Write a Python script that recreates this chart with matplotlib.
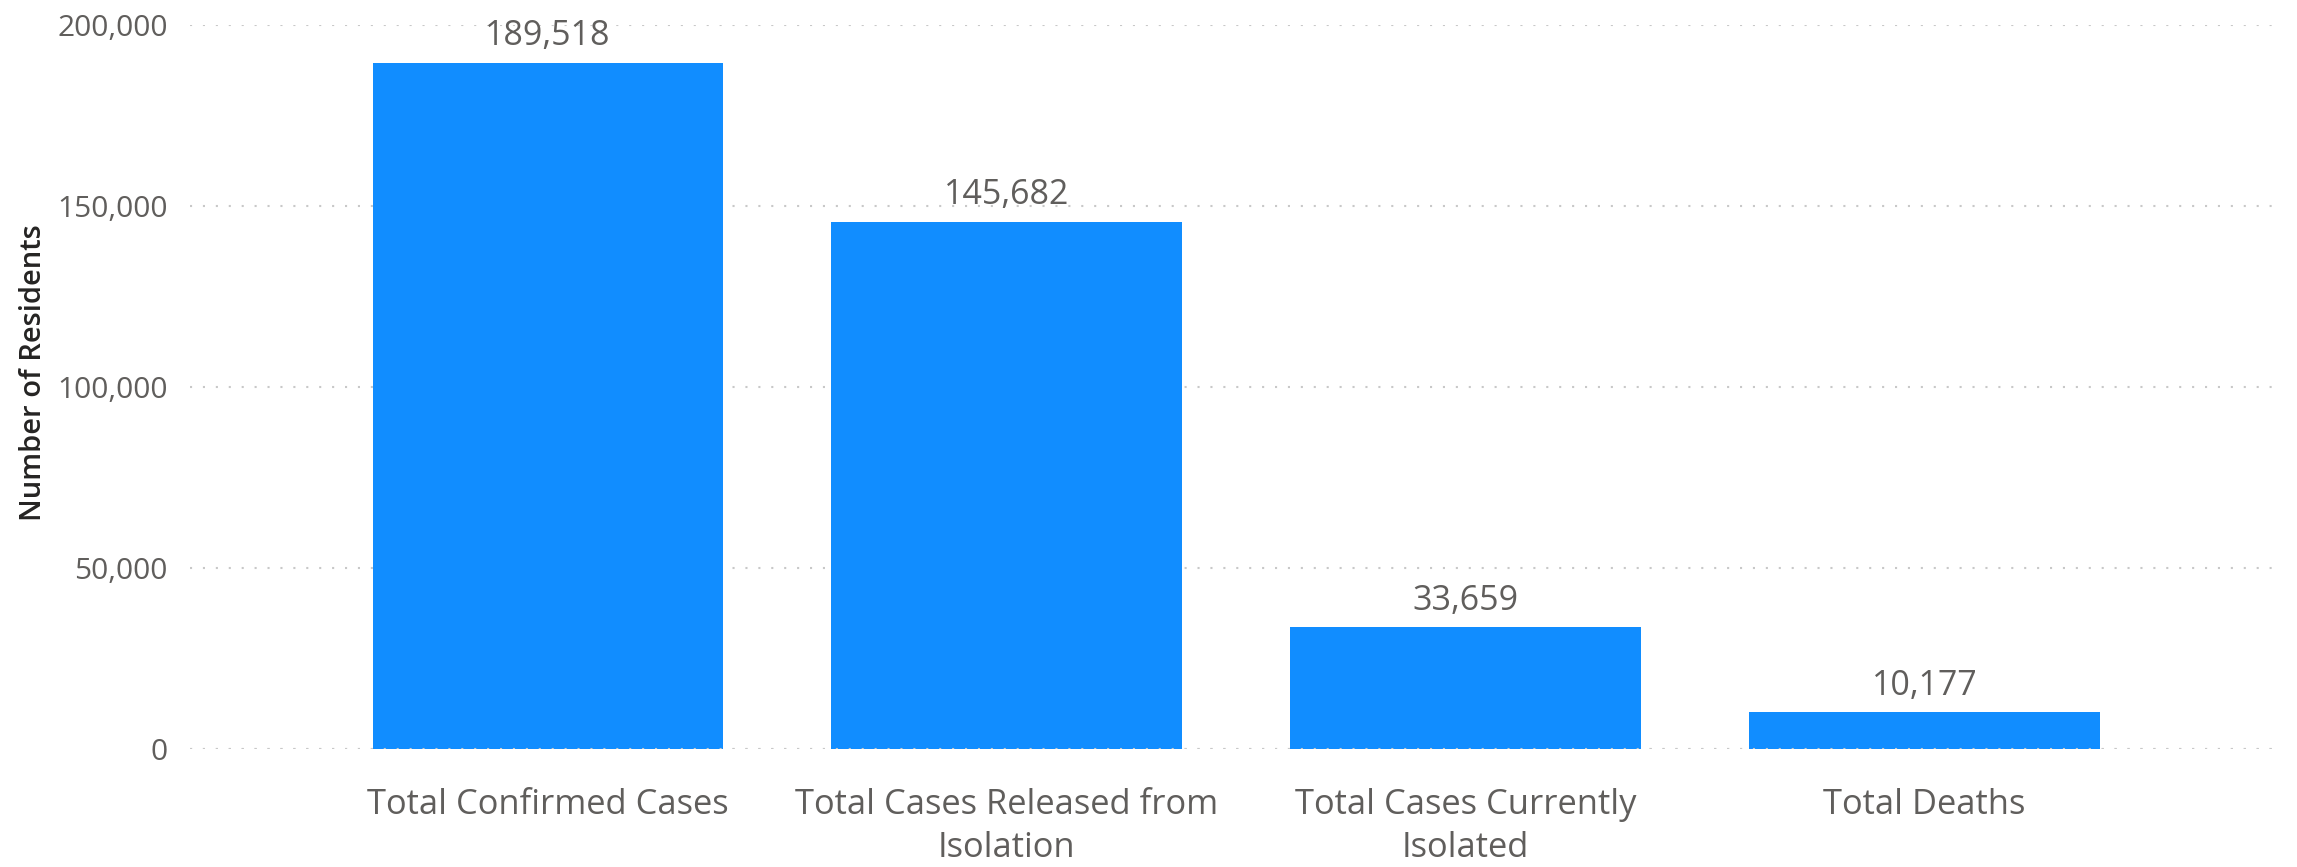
import numpy as np
import matplotlib
matplotlib.use('Agg')
import matplotlib.pyplot as plt
from matplotlib.ticker import FuncFormatter

categories = ['Total Confirmed Cases', 'Total Cases Released from\nIsolation',
              'Total Cases Currently\nIsolated', 'Total Deaths']
values = [189518, 145682, 33659, 10177]
yticks = [0, 50000, 100000, 150000, 200000]

plt.rcParams['font.family'] = ['Open Sans', 'DejaVu Sans']
text_col = '#605E5C'

fig = plt.figure(figsize=(22.97, 8.67), dpi=100)
ax = fig.add_axes([0.0827, 0.136, 0.909, 0.835])

x = np.arange(len(categories))
bars = ax.bar(x, values, width=0.764, color='#118DFF', zorder=2)

for b, v in zip(bars, values):
    ax.annotate(f'{v:,}', (b.get_x() + b.get_width() / 2, v), xytext=(0, 7),
                textcoords='offset points', ha='center', va='bottom',
                fontsize=24.5, color=text_col)

ax.set_xlim(-0.78, 3.77)
ax.set_ylim(0, 200000)
ax.set_yticks(yticks)
ax.yaxis.set_major_formatter(FuncFormatter(lambda v, p: f'{int(v):,}'))
ax.set_xticks(x)
ax.set_xticklabels(categories, fontsize=24.8, color=text_col, linespacing=1.35)
ax.tick_params(axis='y', length=0, pad=16, labelsize=21.5, labelcolor=text_col)
ax.tick_params(axis='x', length=0, pad=28)

ax.grid(axis='y', color='#C8C8C8', linestyle=(0, (1, 5.2)), linewidth=1.5, zorder=0)
for s in ax.spines.values():
    s.set_visible(False)
ax.axhline(0, color='#C8C8C8', linestyle=(0, (1, 5.2)), linewidth=1.5, zorder=3)

ax.set_ylabel('Number of Residents', fontsize=21, color='#252423',
              fontweight='semibold')
ax.yaxis.set_label_coords(-0.068, 0.52)

plt.savefig('out.png', dpi=100)
